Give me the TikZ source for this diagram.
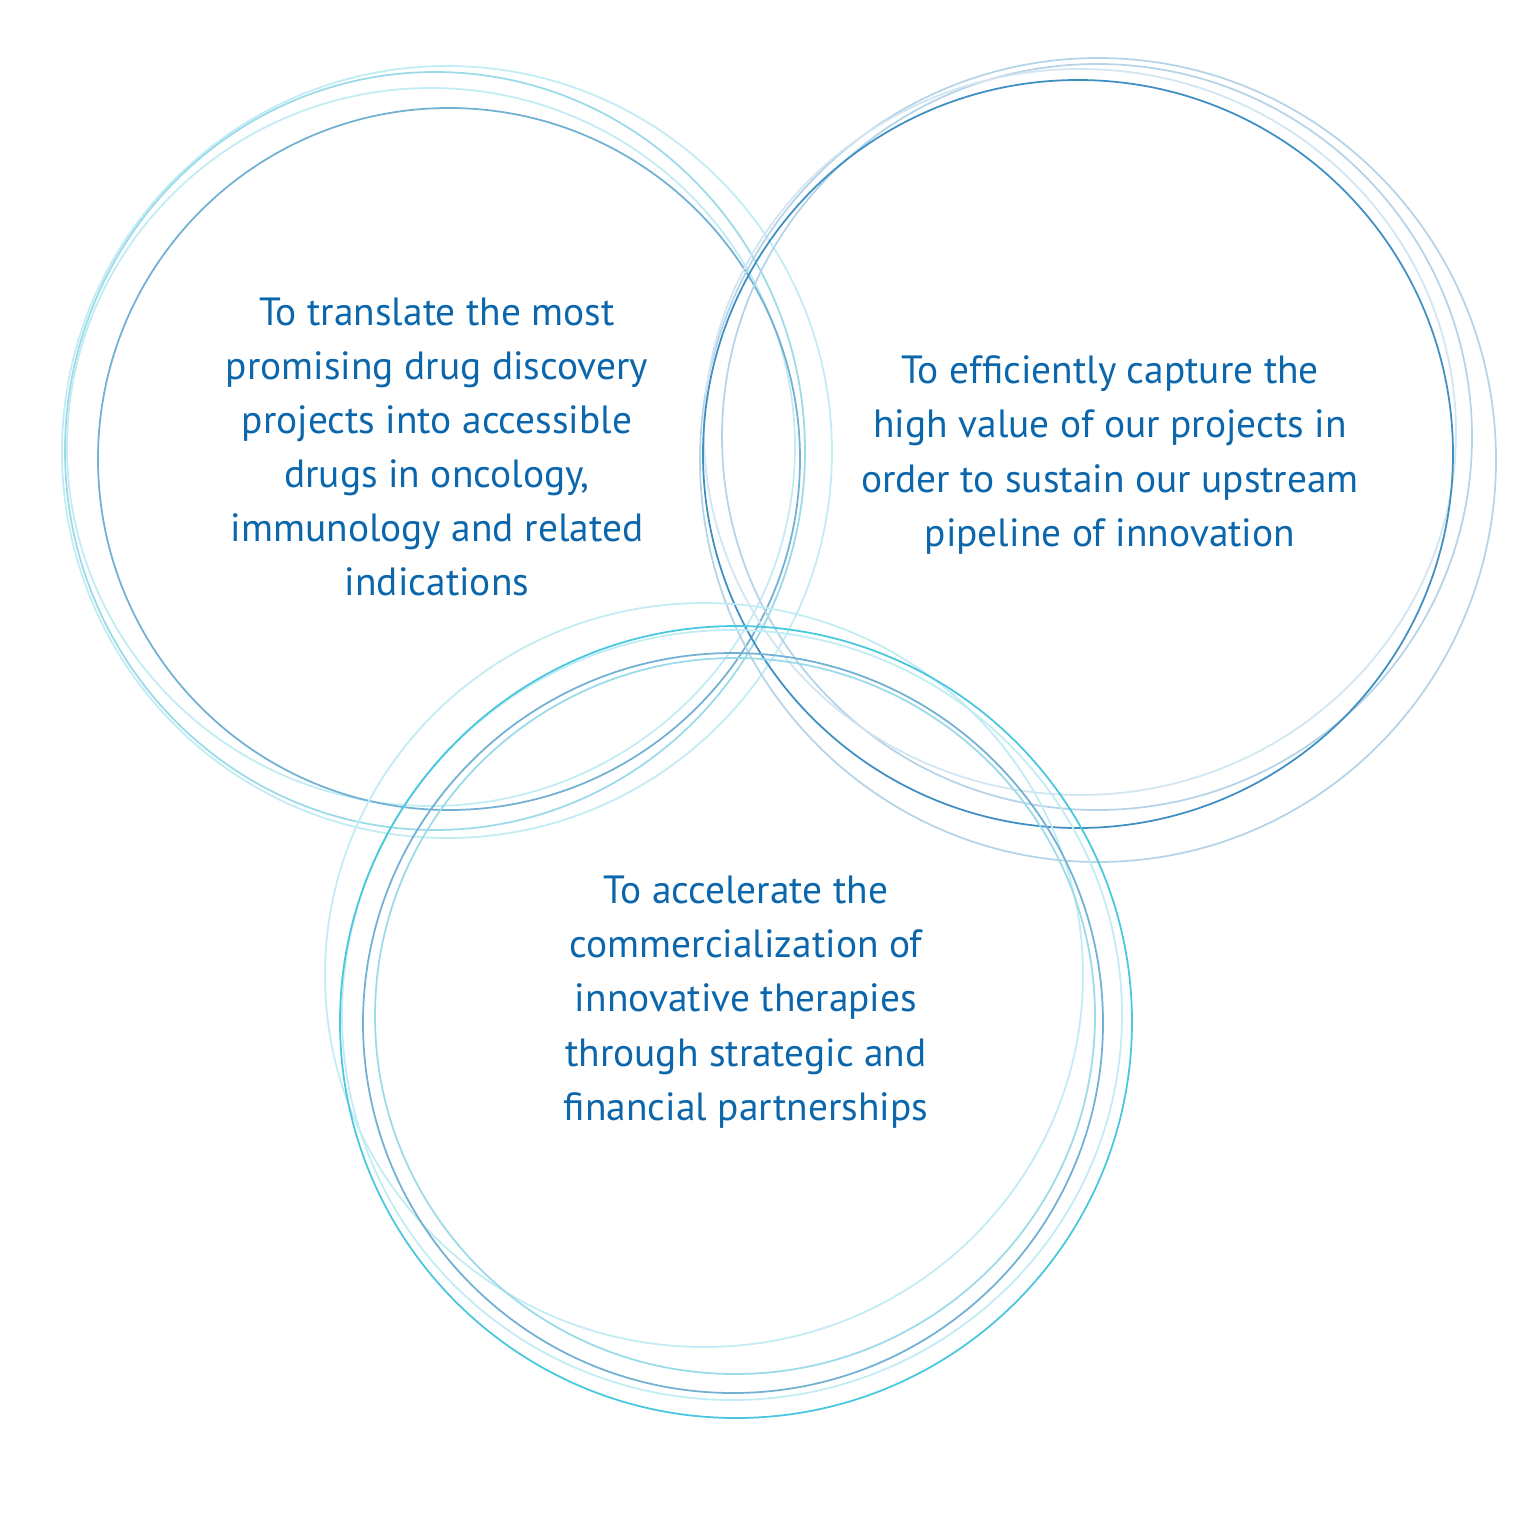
\documentclass[tikz,border=0pt]{standalone}
\usepackage{fontspec}
\setmainfont{PT Sans}
\definecolor{txtblue}{HTML}{0B66AC}
\definecolor{ringdark}{HTML}{72B0D4}
\definecolor{ringcyan}{HTML}{9ADAE9}
\definecolor{ringpale}{HTML}{C2ECF3}
\definecolor{ringbright}{HTML}{48C7DE}
\definecolor{ringblue}{HTML}{3F8FC3}
\definecolor{ringmist}{HTML}{B6D4E8}
\definecolor{ringfog}{HTML}{D2E5F0}
\tikzset{
  ring/.style={line width=.5pt},
  goal/.style={text=txtblue,align=center,font=\fontsize{11.2}{15.4}\selectfont}
}
\begin{document}
\begin{tikzpicture}[x=.01cm,y=-.01cm]
\useasboundingbox (0,0) rectangle (1536,1536);
% left cluster
\foreach \cx/\cy/\rx/\ry/\col in {447/452/385/386/ringpale,435/451/370/379/ringcyan,431/447/364/359/ringpale,449/459/351/351/ringdark}{
\draw[ring,\col] (\cx,\cy) ellipse [x radius=\rx,y radius=\ry];}
% right cluster
\foreach \cx/\cy/\rx/\ry/\col in {1098/460/398/402/ringmist,1097/437/375/373/ringmist,1080/432/376/363/ringfog,1078/454/375/374/ringblue}{
\draw[ring,\col] (\cx,\cy) ellipse [x radius=\rx,y radius=\ry];}
% bottom cluster
\foreach \cx/\cy/\rx/\ry/\col in {704/975/379/372/ringpale,732/1015/390/385/ringpale,735/1016/360/358/ringcyan,736/1022/396/396/ringbright,733/1023/370/370/ringdark}{
\draw[ring,\col] (\cx,\cy) ellipse [x radius=\rx,y radius=\ry];}
\node[goal] (translate) at (437,447) {To translate the most\\promising drug discovery\\projects into accessible\\drugs in oncology,\\immunology and related\\indications};
\node[goal] (capture) at (1110,455) {To efficiently capture the\\high value of our projects in\\order to sustain our upstream\\pipeline of innovation};
\node[goal] (accelerate) at (746,1002) {To accelerate the\\commercialization of\\innovative therapies\\through strategic and\\financial partnerships};
\end{tikzpicture}
\end{document}
